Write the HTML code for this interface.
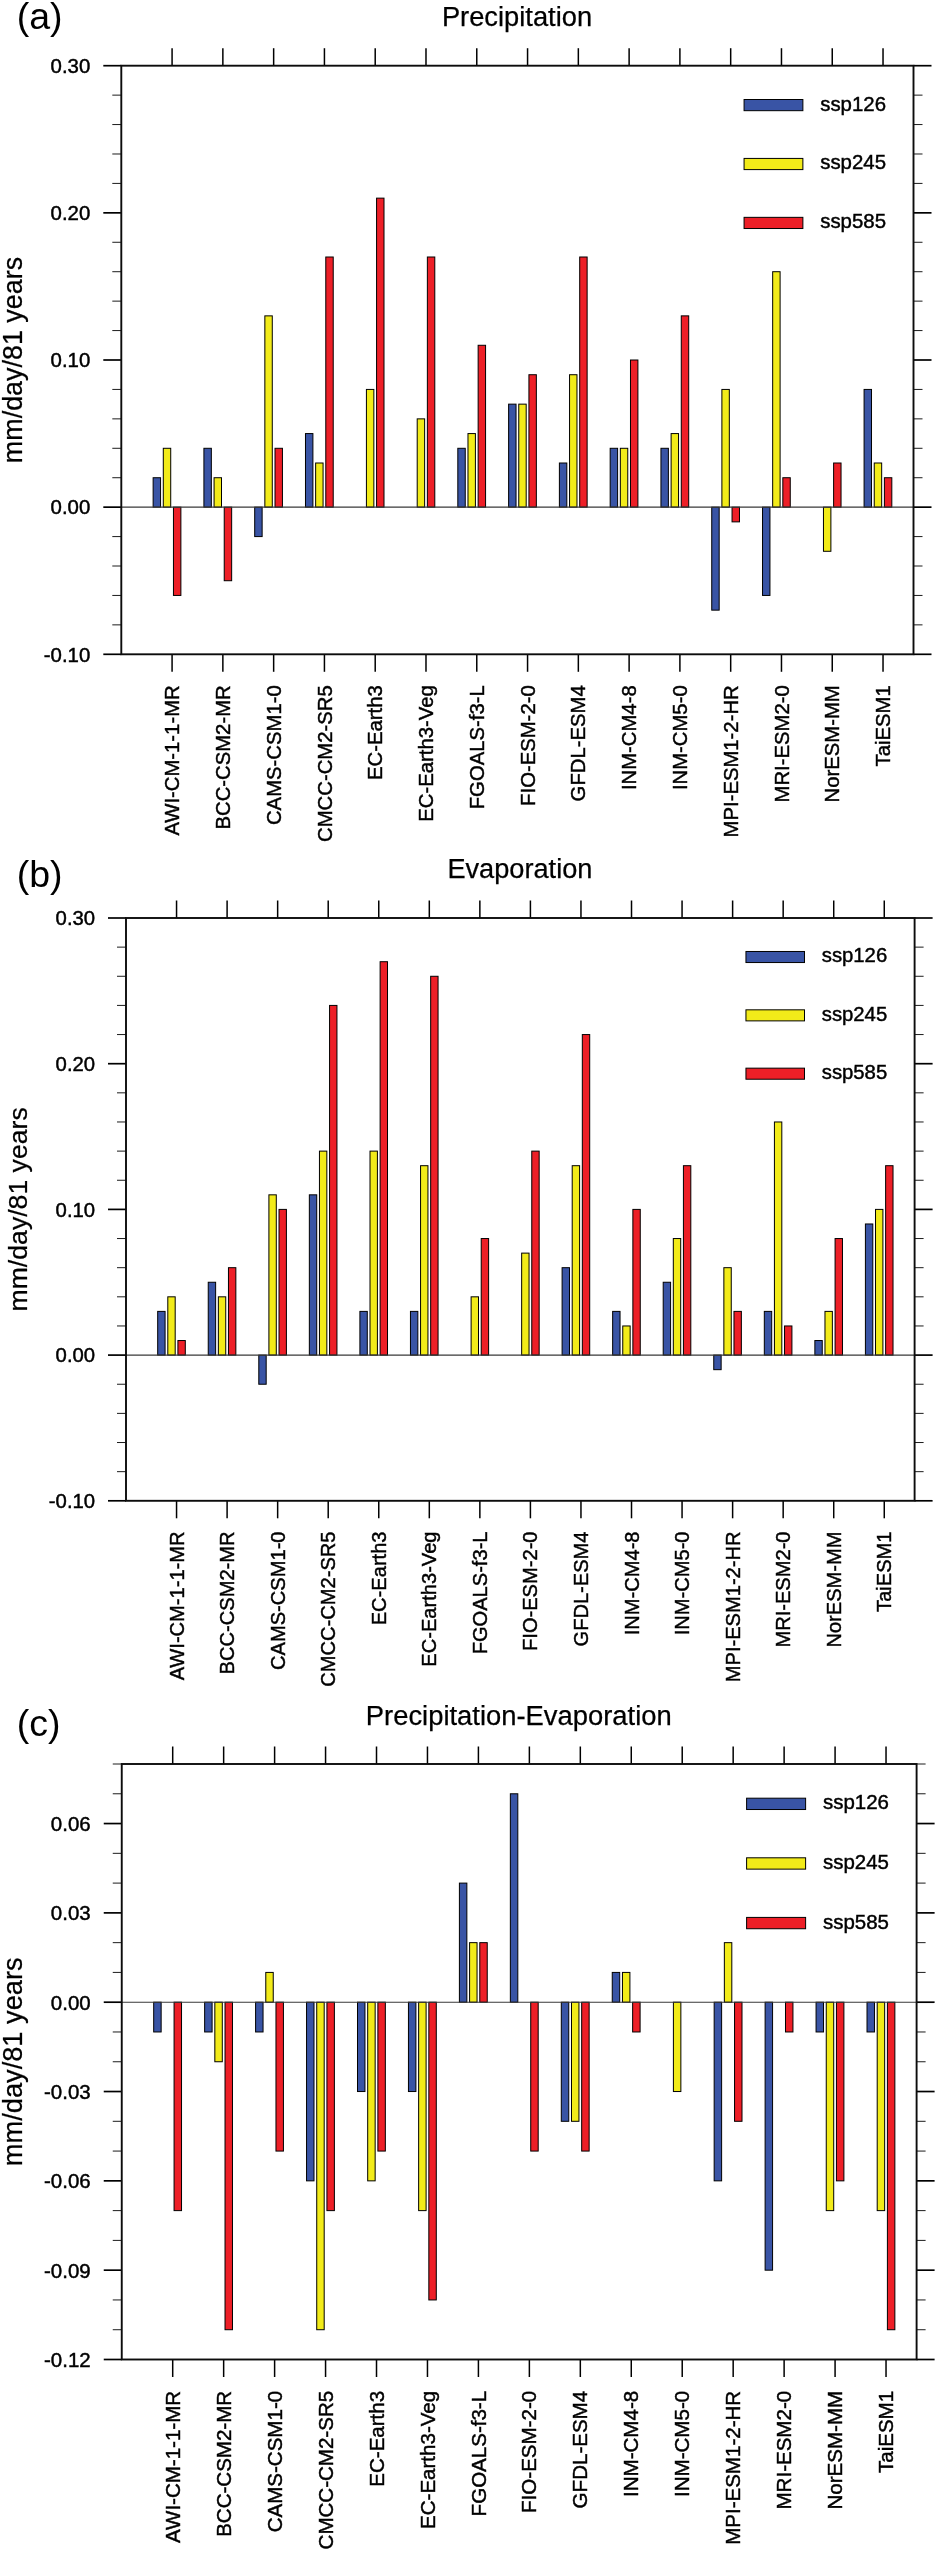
<!DOCTYPE html>
<html><head><meta charset="utf-8"><title>Precipitation / Evaporation trends</title>
<style>
html,body{margin:0;padding:0;background:#fff;}
body{width:937px;height:2550px;overflow:hidden;}
svg{display:block;will-change:transform;}
text{font-family:'Liberation Sans',sans-serif;fill:#000;stroke:#000;stroke-width:0.45px;}
.tg{stroke-width:0;}
.tt{stroke-width:0.25px;}
</style></head><body>
<svg width="937" height="2550" viewBox="0 0 937 2550">
<rect x="0" y="0" width="937" height="2550" fill="#fff"/>
<rect x="153.13" y="477.72" width="7.43" height="29.43" fill="#3954a5" stroke="#000" stroke-width="1"/>
<rect x="203.91" y="448.29" width="7.43" height="58.86" fill="#3954a5" stroke="#000" stroke-width="1"/>
<rect x="254.70" y="507.15" width="7.43" height="29.43" fill="#3954a5" stroke="#000" stroke-width="1"/>
<rect x="305.48" y="433.57" width="7.43" height="73.58" fill="#3954a5" stroke="#000" stroke-width="1"/>
<rect x="457.82" y="448.29" width="7.43" height="58.86" fill="#3954a5" stroke="#000" stroke-width="1"/>
<rect x="508.61" y="404.14" width="7.43" height="103.00" fill="#3954a5" stroke="#000" stroke-width="1"/>
<rect x="559.39" y="463.00" width="7.43" height="44.14" fill="#3954a5" stroke="#000" stroke-width="1"/>
<rect x="610.17" y="448.29" width="7.43" height="58.86" fill="#3954a5" stroke="#000" stroke-width="1"/>
<rect x="660.95" y="448.29" width="7.43" height="58.86" fill="#3954a5" stroke="#000" stroke-width="1"/>
<rect x="711.74" y="507.15" width="7.43" height="103.00" fill="#3954a5" stroke="#000" stroke-width="1"/>
<rect x="762.52" y="507.15" width="7.43" height="88.29" fill="#3954a5" stroke="#000" stroke-width="1"/>
<rect x="864.08" y="389.43" width="7.43" height="117.72" fill="#3954a5" stroke="#000" stroke-width="1"/>
<rect x="163.29" y="448.29" width="7.43" height="58.86" fill="#f2eb19" stroke="#000" stroke-width="1"/>
<rect x="214.07" y="477.72" width="7.43" height="29.43" fill="#f2eb19" stroke="#000" stroke-width="1"/>
<rect x="264.85" y="315.86" width="7.43" height="191.29" fill="#f2eb19" stroke="#000" stroke-width="1"/>
<rect x="315.64" y="463.00" width="7.43" height="44.14" fill="#f2eb19" stroke="#000" stroke-width="1"/>
<rect x="366.42" y="389.43" width="7.43" height="117.72" fill="#f2eb19" stroke="#000" stroke-width="1"/>
<rect x="417.20" y="418.86" width="7.43" height="88.29" fill="#f2eb19" stroke="#000" stroke-width="1"/>
<rect x="467.98" y="433.57" width="7.43" height="73.58" fill="#f2eb19" stroke="#000" stroke-width="1"/>
<rect x="518.76" y="404.14" width="7.43" height="103.00" fill="#f2eb19" stroke="#000" stroke-width="1"/>
<rect x="569.55" y="374.72" width="7.43" height="132.43" fill="#f2eb19" stroke="#000" stroke-width="1"/>
<rect x="620.33" y="448.29" width="7.43" height="58.86" fill="#f2eb19" stroke="#000" stroke-width="1"/>
<rect x="671.11" y="433.57" width="7.43" height="73.58" fill="#f2eb19" stroke="#000" stroke-width="1"/>
<rect x="721.89" y="389.43" width="7.43" height="117.72" fill="#f2eb19" stroke="#000" stroke-width="1"/>
<rect x="772.67" y="271.71" width="7.43" height="235.44" fill="#f2eb19" stroke="#000" stroke-width="1"/>
<rect x="823.46" y="507.15" width="7.43" height="44.14" fill="#f2eb19" stroke="#000" stroke-width="1"/>
<rect x="874.24" y="463.00" width="7.43" height="44.14" fill="#f2eb19" stroke="#000" stroke-width="1"/>
<rect x="173.45" y="507.15" width="7.43" height="88.29" fill="#ed1f27" stroke="#000" stroke-width="1"/>
<rect x="224.23" y="507.15" width="7.43" height="73.57" fill="#ed1f27" stroke="#000" stroke-width="1"/>
<rect x="275.01" y="448.29" width="7.43" height="58.86" fill="#ed1f27" stroke="#000" stroke-width="1"/>
<rect x="325.79" y="257.00" width="7.43" height="250.15" fill="#ed1f27" stroke="#000" stroke-width="1"/>
<rect x="376.57" y="198.14" width="7.43" height="309.01" fill="#ed1f27" stroke="#000" stroke-width="1"/>
<rect x="427.36" y="257.00" width="7.43" height="250.15" fill="#ed1f27" stroke="#000" stroke-width="1"/>
<rect x="478.14" y="345.28" width="7.43" height="161.87" fill="#ed1f27" stroke="#000" stroke-width="1"/>
<rect x="528.92" y="374.72" width="7.43" height="132.43" fill="#ed1f27" stroke="#000" stroke-width="1"/>
<rect x="579.70" y="257.00" width="7.43" height="250.15" fill="#ed1f27" stroke="#000" stroke-width="1"/>
<rect x="630.48" y="360.00" width="7.43" height="147.15" fill="#ed1f27" stroke="#000" stroke-width="1"/>
<rect x="681.27" y="315.86" width="7.43" height="191.29" fill="#ed1f27" stroke="#000" stroke-width="1"/>
<rect x="732.05" y="507.15" width="7.43" height="14.72" fill="#ed1f27" stroke="#000" stroke-width="1"/>
<rect x="782.83" y="477.72" width="7.43" height="29.43" fill="#ed1f27" stroke="#000" stroke-width="1"/>
<rect x="833.61" y="463.00" width="7.43" height="44.14" fill="#ed1f27" stroke="#000" stroke-width="1"/>
<rect x="884.39" y="477.72" width="7.43" height="29.43" fill="#ed1f27" stroke="#000" stroke-width="1"/>
<line x1="121.30" x2="913.50" y1="507.15" y2="507.15" stroke="#383838" stroke-width="1.1"/>
<line x1="112.30" x2="121.30" y1="624.87" y2="624.87" stroke="#1c1c1c" stroke-width="1"/>
<line x1="913.50" x2="922.50" y1="624.87" y2="624.87" stroke="#1c1c1c" stroke-width="1"/>
<line x1="112.30" x2="121.30" y1="595.44" y2="595.44" stroke="#1c1c1c" stroke-width="1"/>
<line x1="913.50" x2="922.50" y1="595.44" y2="595.44" stroke="#1c1c1c" stroke-width="1"/>
<line x1="112.30" x2="121.30" y1="566.01" y2="566.01" stroke="#1c1c1c" stroke-width="1"/>
<line x1="913.50" x2="922.50" y1="566.01" y2="566.01" stroke="#1c1c1c" stroke-width="1"/>
<line x1="112.30" x2="121.30" y1="536.58" y2="536.58" stroke="#1c1c1c" stroke-width="1"/>
<line x1="913.50" x2="922.50" y1="536.58" y2="536.58" stroke="#1c1c1c" stroke-width="1"/>
<line x1="112.30" x2="121.30" y1="477.72" y2="477.72" stroke="#1c1c1c" stroke-width="1"/>
<line x1="913.50" x2="922.50" y1="477.72" y2="477.72" stroke="#1c1c1c" stroke-width="1"/>
<line x1="112.30" x2="121.30" y1="448.29" y2="448.29" stroke="#1c1c1c" stroke-width="1"/>
<line x1="913.50" x2="922.50" y1="448.29" y2="448.29" stroke="#1c1c1c" stroke-width="1"/>
<line x1="112.30" x2="121.30" y1="418.86" y2="418.86" stroke="#1c1c1c" stroke-width="1"/>
<line x1="913.50" x2="922.50" y1="418.86" y2="418.86" stroke="#1c1c1c" stroke-width="1"/>
<line x1="112.30" x2="121.30" y1="389.43" y2="389.43" stroke="#1c1c1c" stroke-width="1"/>
<line x1="913.50" x2="922.50" y1="389.43" y2="389.43" stroke="#1c1c1c" stroke-width="1"/>
<line x1="112.30" x2="121.30" y1="330.57" y2="330.57" stroke="#1c1c1c" stroke-width="1"/>
<line x1="913.50" x2="922.50" y1="330.57" y2="330.57" stroke="#1c1c1c" stroke-width="1"/>
<line x1="112.30" x2="121.30" y1="301.14" y2="301.14" stroke="#1c1c1c" stroke-width="1"/>
<line x1="913.50" x2="922.50" y1="301.14" y2="301.14" stroke="#1c1c1c" stroke-width="1"/>
<line x1="112.30" x2="121.30" y1="271.71" y2="271.71" stroke="#1c1c1c" stroke-width="1"/>
<line x1="913.50" x2="922.50" y1="271.71" y2="271.71" stroke="#1c1c1c" stroke-width="1"/>
<line x1="112.30" x2="121.30" y1="242.28" y2="242.28" stroke="#1c1c1c" stroke-width="1"/>
<line x1="913.50" x2="922.50" y1="242.28" y2="242.28" stroke="#1c1c1c" stroke-width="1"/>
<line x1="112.30" x2="121.30" y1="183.42" y2="183.42" stroke="#1c1c1c" stroke-width="1"/>
<line x1="913.50" x2="922.50" y1="183.42" y2="183.42" stroke="#1c1c1c" stroke-width="1"/>
<line x1="112.30" x2="121.30" y1="153.99" y2="153.99" stroke="#1c1c1c" stroke-width="1"/>
<line x1="913.50" x2="922.50" y1="153.99" y2="153.99" stroke="#1c1c1c" stroke-width="1"/>
<line x1="112.30" x2="121.30" y1="124.56" y2="124.56" stroke="#1c1c1c" stroke-width="1"/>
<line x1="913.50" x2="922.50" y1="124.56" y2="124.56" stroke="#1c1c1c" stroke-width="1"/>
<line x1="112.30" x2="121.30" y1="95.13" y2="95.13" stroke="#1c1c1c" stroke-width="1"/>
<line x1="913.50" x2="922.50" y1="95.13" y2="95.13" stroke="#1c1c1c" stroke-width="1"/>
<line x1="103.30" x2="121.30" y1="65.70" y2="65.70" stroke="#000" stroke-width="1.7"/>
<line x1="913.50" x2="931.50" y1="65.70" y2="65.70" stroke="#000" stroke-width="1.7"/>
<line x1="103.30" x2="121.30" y1="212.85" y2="212.85" stroke="#000" stroke-width="1.7"/>
<line x1="913.50" x2="931.50" y1="212.85" y2="212.85" stroke="#000" stroke-width="1.7"/>
<line x1="103.30" x2="121.30" y1="360.00" y2="360.00" stroke="#000" stroke-width="1.7"/>
<line x1="913.50" x2="931.50" y1="360.00" y2="360.00" stroke="#000" stroke-width="1.7"/>
<line x1="103.30" x2="121.30" y1="507.15" y2="507.15" stroke="#000" stroke-width="1.7"/>
<line x1="913.50" x2="931.50" y1="507.15" y2="507.15" stroke="#000" stroke-width="1.7"/>
<line x1="103.30" x2="121.30" y1="654.30" y2="654.30" stroke="#000" stroke-width="1.7"/>
<line x1="913.50" x2="931.50" y1="654.30" y2="654.30" stroke="#000" stroke-width="1.7"/>
<line x1="172.08" x2="172.08" y1="48.20" y2="65.70" stroke="#000" stroke-width="1.5"/>
<line x1="172.08" x2="172.08" y1="654.30" y2="671.80" stroke="#000" stroke-width="1.5"/>
<line x1="222.86" x2="222.86" y1="48.20" y2="65.70" stroke="#000" stroke-width="1.5"/>
<line x1="222.86" x2="222.86" y1="654.30" y2="671.80" stroke="#000" stroke-width="1.5"/>
<line x1="273.65" x2="273.65" y1="48.20" y2="65.70" stroke="#000" stroke-width="1.5"/>
<line x1="273.65" x2="273.65" y1="654.30" y2="671.80" stroke="#000" stroke-width="1.5"/>
<line x1="324.43" x2="324.43" y1="48.20" y2="65.70" stroke="#000" stroke-width="1.5"/>
<line x1="324.43" x2="324.43" y1="654.30" y2="671.80" stroke="#000" stroke-width="1.5"/>
<line x1="375.21" x2="375.21" y1="48.20" y2="65.70" stroke="#000" stroke-width="1.5"/>
<line x1="375.21" x2="375.21" y1="654.30" y2="671.80" stroke="#000" stroke-width="1.5"/>
<line x1="425.99" x2="425.99" y1="48.20" y2="65.70" stroke="#000" stroke-width="1.5"/>
<line x1="425.99" x2="425.99" y1="654.30" y2="671.80" stroke="#000" stroke-width="1.5"/>
<line x1="476.77" x2="476.77" y1="48.20" y2="65.70" stroke="#000" stroke-width="1.5"/>
<line x1="476.77" x2="476.77" y1="654.30" y2="671.80" stroke="#000" stroke-width="1.5"/>
<line x1="527.56" x2="527.56" y1="48.20" y2="65.70" stroke="#000" stroke-width="1.5"/>
<line x1="527.56" x2="527.56" y1="654.30" y2="671.80" stroke="#000" stroke-width="1.5"/>
<line x1="578.34" x2="578.34" y1="48.20" y2="65.70" stroke="#000" stroke-width="1.5"/>
<line x1="578.34" x2="578.34" y1="654.30" y2="671.80" stroke="#000" stroke-width="1.5"/>
<line x1="629.12" x2="629.12" y1="48.20" y2="65.70" stroke="#000" stroke-width="1.5"/>
<line x1="629.12" x2="629.12" y1="654.30" y2="671.80" stroke="#000" stroke-width="1.5"/>
<line x1="679.90" x2="679.90" y1="48.20" y2="65.70" stroke="#000" stroke-width="1.5"/>
<line x1="679.90" x2="679.90" y1="654.30" y2="671.80" stroke="#000" stroke-width="1.5"/>
<line x1="730.68" x2="730.68" y1="48.20" y2="65.70" stroke="#000" stroke-width="1.5"/>
<line x1="730.68" x2="730.68" y1="654.30" y2="671.80" stroke="#000" stroke-width="1.5"/>
<line x1="781.47" x2="781.47" y1="48.20" y2="65.70" stroke="#000" stroke-width="1.5"/>
<line x1="781.47" x2="781.47" y1="654.30" y2="671.80" stroke="#000" stroke-width="1.5"/>
<line x1="832.25" x2="832.25" y1="48.20" y2="65.70" stroke="#000" stroke-width="1.5"/>
<line x1="832.25" x2="832.25" y1="654.30" y2="671.80" stroke="#000" stroke-width="1.5"/>
<line x1="883.03" x2="883.03" y1="48.20" y2="65.70" stroke="#000" stroke-width="1.5"/>
<line x1="883.03" x2="883.03" y1="654.30" y2="671.80" stroke="#000" stroke-width="1.5"/>
<rect x="121.30" y="65.70" width="792.20" height="588.60" fill="none" stroke="#0c0c0c" stroke-width="1.9"/>
<text x="90.30" y="73.00" text-anchor="end" font-size="20.40">0.30</text>
<text x="90.30" y="220.15" text-anchor="end" font-size="20.40">0.20</text>
<text x="90.30" y="367.30" text-anchor="end" font-size="20.40">0.10</text>
<text x="90.30" y="514.45" text-anchor="end" font-size="20.40">0.00</text>
<text x="90.30" y="661.60" text-anchor="end" font-size="20.40">-0.10</text>
<text transform="translate(179.18,685.30) rotate(-90)" text-anchor="end" font-size="20.30">AWI-CM-1-1-MR</text>
<text transform="translate(229.96,685.30) rotate(-90)" text-anchor="end" font-size="20.30">BCC-CSM2-MR</text>
<text transform="translate(280.75,685.30) rotate(-90)" text-anchor="end" font-size="20.30">CAMS-CSM1-0</text>
<text transform="translate(331.53,685.30) rotate(-90)" text-anchor="end" font-size="20.30">CMCC-CM2-SR5</text>
<text transform="translate(382.31,685.30) rotate(-90)" text-anchor="end" font-size="20.30">EC-Earth3</text>
<text transform="translate(433.09,685.30) rotate(-90)" text-anchor="end" font-size="20.30">EC-Earth3-Veg</text>
<text transform="translate(483.87,685.30) rotate(-90)" text-anchor="end" font-size="20.30">FGOALS-f3-L</text>
<text transform="translate(534.66,685.30) rotate(-90)" text-anchor="end" font-size="20.30">FIO-ESM-2-0</text>
<text transform="translate(585.44,685.30) rotate(-90)" text-anchor="end" font-size="20.30">GFDL-ESM4</text>
<text transform="translate(636.22,685.30) rotate(-90)" text-anchor="end" font-size="20.30">INM-CM4-8</text>
<text transform="translate(687.00,685.30) rotate(-90)" text-anchor="end" font-size="20.30">INM-CM5-0</text>
<text transform="translate(737.78,685.30) rotate(-90)" text-anchor="end" font-size="20.30">MPI-ESM1-2-HR</text>
<text transform="translate(788.57,685.30) rotate(-90)" text-anchor="end" font-size="20.30">MRI-ESM2-0</text>
<text transform="translate(839.35,685.30) rotate(-90)" text-anchor="end" font-size="20.30">NorESM-MM</text>
<text transform="translate(890.13,685.30) rotate(-90)" text-anchor="end" font-size="20.30">TaiESM1</text>
<rect x="744.07" y="99.50" width="58.81" height="11.18" fill="#3954a5" stroke="#000" stroke-width="1"/>
<text x="820.22" y="110.50" font-size="20.40">ssp126</text>
<rect x="744.07" y="158.42" width="58.81" height="11.18" fill="#f2eb19" stroke="#000" stroke-width="1"/>
<text x="820.22" y="169.42" font-size="20.40">ssp245</text>
<rect x="744.07" y="217.34" width="58.81" height="11.18" fill="#ed1f27" stroke="#000" stroke-width="1"/>
<text x="820.22" y="228.34" font-size="20.40">ssp585</text>
<text x="517.00" y="25.80" text-anchor="middle" font-size="27.30" class="tt">Precipitation</text>
<text x="16.70" y="28.80" font-size="37.5" class="tg">(a)</text>
<text transform="translate(22.20,360.00) rotate(-90)" text-anchor="middle" font-size="26.90" class="tt">mm/day/81 years</text>
<rect x="157.69" y="1311.39" width="7.39" height="43.71" fill="#3954a5" stroke="#000" stroke-width="1"/>
<rect x="208.24" y="1282.25" width="7.39" height="72.85" fill="#3954a5" stroke="#000" stroke-width="1"/>
<rect x="258.79" y="1355.10" width="7.39" height="29.14" fill="#3954a5" stroke="#000" stroke-width="1"/>
<rect x="309.34" y="1194.83" width="7.39" height="160.27" fill="#3954a5" stroke="#000" stroke-width="1"/>
<rect x="359.90" y="1311.39" width="7.39" height="43.71" fill="#3954a5" stroke="#000" stroke-width="1"/>
<rect x="410.45" y="1311.39" width="7.39" height="43.71" fill="#3954a5" stroke="#000" stroke-width="1"/>
<rect x="562.10" y="1267.68" width="7.39" height="87.42" fill="#3954a5" stroke="#000" stroke-width="1"/>
<rect x="612.65" y="1311.39" width="7.39" height="43.71" fill="#3954a5" stroke="#000" stroke-width="1"/>
<rect x="663.20" y="1282.25" width="7.39" height="72.85" fill="#3954a5" stroke="#000" stroke-width="1"/>
<rect x="713.75" y="1355.10" width="7.39" height="14.57" fill="#3954a5" stroke="#000" stroke-width="1"/>
<rect x="764.31" y="1311.39" width="7.39" height="43.71" fill="#3954a5" stroke="#000" stroke-width="1"/>
<rect x="814.86" y="1340.53" width="7.39" height="14.57" fill="#3954a5" stroke="#000" stroke-width="1"/>
<rect x="865.41" y="1223.97" width="7.39" height="131.13" fill="#3954a5" stroke="#000" stroke-width="1"/>
<rect x="167.80" y="1296.82" width="7.39" height="58.28" fill="#f2eb19" stroke="#000" stroke-width="1"/>
<rect x="218.35" y="1296.82" width="7.39" height="58.28" fill="#f2eb19" stroke="#000" stroke-width="1"/>
<rect x="268.90" y="1194.83" width="7.39" height="160.27" fill="#f2eb19" stroke="#000" stroke-width="1"/>
<rect x="319.45" y="1151.12" width="7.39" height="203.98" fill="#f2eb19" stroke="#000" stroke-width="1"/>
<rect x="370.01" y="1151.12" width="7.39" height="203.98" fill="#f2eb19" stroke="#000" stroke-width="1"/>
<rect x="420.56" y="1165.69" width="7.39" height="189.41" fill="#f2eb19" stroke="#000" stroke-width="1"/>
<rect x="471.11" y="1296.82" width="7.39" height="58.28" fill="#f2eb19" stroke="#000" stroke-width="1"/>
<rect x="521.66" y="1253.11" width="7.39" height="101.99" fill="#f2eb19" stroke="#000" stroke-width="1"/>
<rect x="572.21" y="1165.69" width="7.39" height="189.41" fill="#f2eb19" stroke="#000" stroke-width="1"/>
<rect x="622.76" y="1325.96" width="7.39" height="29.14" fill="#f2eb19" stroke="#000" stroke-width="1"/>
<rect x="673.31" y="1238.54" width="7.39" height="116.56" fill="#f2eb19" stroke="#000" stroke-width="1"/>
<rect x="723.86" y="1267.68" width="7.39" height="87.42" fill="#f2eb19" stroke="#000" stroke-width="1"/>
<rect x="774.42" y="1121.98" width="7.39" height="233.12" fill="#f2eb19" stroke="#000" stroke-width="1"/>
<rect x="824.97" y="1311.39" width="7.39" height="43.71" fill="#f2eb19" stroke="#000" stroke-width="1"/>
<rect x="875.52" y="1209.40" width="7.39" height="145.70" fill="#f2eb19" stroke="#000" stroke-width="1"/>
<rect x="177.91" y="1340.53" width="7.39" height="14.57" fill="#ed1f27" stroke="#000" stroke-width="1"/>
<rect x="228.46" y="1267.68" width="7.39" height="87.42" fill="#ed1f27" stroke="#000" stroke-width="1"/>
<rect x="279.01" y="1209.40" width="7.39" height="145.70" fill="#ed1f27" stroke="#000" stroke-width="1"/>
<rect x="329.56" y="1005.42" width="7.39" height="349.68" fill="#ed1f27" stroke="#000" stroke-width="1"/>
<rect x="380.12" y="961.71" width="7.39" height="393.39" fill="#ed1f27" stroke="#000" stroke-width="1"/>
<rect x="430.67" y="976.28" width="7.39" height="378.82" fill="#ed1f27" stroke="#000" stroke-width="1"/>
<rect x="481.22" y="1238.54" width="7.39" height="116.56" fill="#ed1f27" stroke="#000" stroke-width="1"/>
<rect x="531.77" y="1151.12" width="7.39" height="203.98" fill="#ed1f27" stroke="#000" stroke-width="1"/>
<rect x="582.32" y="1034.56" width="7.39" height="320.54" fill="#ed1f27" stroke="#000" stroke-width="1"/>
<rect x="632.87" y="1209.40" width="7.39" height="145.70" fill="#ed1f27" stroke="#000" stroke-width="1"/>
<rect x="683.42" y="1165.69" width="7.39" height="189.41" fill="#ed1f27" stroke="#000" stroke-width="1"/>
<rect x="733.97" y="1311.39" width="7.39" height="43.71" fill="#ed1f27" stroke="#000" stroke-width="1"/>
<rect x="784.53" y="1325.96" width="7.39" height="29.14" fill="#ed1f27" stroke="#000" stroke-width="1"/>
<rect x="835.08" y="1238.54" width="7.39" height="116.56" fill="#ed1f27" stroke="#000" stroke-width="1"/>
<rect x="885.63" y="1165.69" width="7.39" height="189.41" fill="#ed1f27" stroke="#000" stroke-width="1"/>
<line x1="126.00" x2="914.60" y1="1355.10" y2="1355.10" stroke="#383838" stroke-width="1.1"/>
<line x1="117.00" x2="126.00" y1="1471.66" y2="1471.66" stroke="#1c1c1c" stroke-width="1"/>
<line x1="914.60" x2="923.60" y1="1471.66" y2="1471.66" stroke="#1c1c1c" stroke-width="1"/>
<line x1="117.00" x2="126.00" y1="1442.52" y2="1442.52" stroke="#1c1c1c" stroke-width="1"/>
<line x1="914.60" x2="923.60" y1="1442.52" y2="1442.52" stroke="#1c1c1c" stroke-width="1"/>
<line x1="117.00" x2="126.00" y1="1413.38" y2="1413.38" stroke="#1c1c1c" stroke-width="1"/>
<line x1="914.60" x2="923.60" y1="1413.38" y2="1413.38" stroke="#1c1c1c" stroke-width="1"/>
<line x1="117.00" x2="126.00" y1="1384.24" y2="1384.24" stroke="#1c1c1c" stroke-width="1"/>
<line x1="914.60" x2="923.60" y1="1384.24" y2="1384.24" stroke="#1c1c1c" stroke-width="1"/>
<line x1="117.00" x2="126.00" y1="1325.96" y2="1325.96" stroke="#1c1c1c" stroke-width="1"/>
<line x1="914.60" x2="923.60" y1="1325.96" y2="1325.96" stroke="#1c1c1c" stroke-width="1"/>
<line x1="117.00" x2="126.00" y1="1296.82" y2="1296.82" stroke="#1c1c1c" stroke-width="1"/>
<line x1="914.60" x2="923.60" y1="1296.82" y2="1296.82" stroke="#1c1c1c" stroke-width="1"/>
<line x1="117.00" x2="126.00" y1="1267.68" y2="1267.68" stroke="#1c1c1c" stroke-width="1"/>
<line x1="914.60" x2="923.60" y1="1267.68" y2="1267.68" stroke="#1c1c1c" stroke-width="1"/>
<line x1="117.00" x2="126.00" y1="1238.54" y2="1238.54" stroke="#1c1c1c" stroke-width="1"/>
<line x1="914.60" x2="923.60" y1="1238.54" y2="1238.54" stroke="#1c1c1c" stroke-width="1"/>
<line x1="117.00" x2="126.00" y1="1180.26" y2="1180.26" stroke="#1c1c1c" stroke-width="1"/>
<line x1="914.60" x2="923.60" y1="1180.26" y2="1180.26" stroke="#1c1c1c" stroke-width="1"/>
<line x1="117.00" x2="126.00" y1="1151.12" y2="1151.12" stroke="#1c1c1c" stroke-width="1"/>
<line x1="914.60" x2="923.60" y1="1151.12" y2="1151.12" stroke="#1c1c1c" stroke-width="1"/>
<line x1="117.00" x2="126.00" y1="1121.98" y2="1121.98" stroke="#1c1c1c" stroke-width="1"/>
<line x1="914.60" x2="923.60" y1="1121.98" y2="1121.98" stroke="#1c1c1c" stroke-width="1"/>
<line x1="117.00" x2="126.00" y1="1092.84" y2="1092.84" stroke="#1c1c1c" stroke-width="1"/>
<line x1="914.60" x2="923.60" y1="1092.84" y2="1092.84" stroke="#1c1c1c" stroke-width="1"/>
<line x1="117.00" x2="126.00" y1="1034.56" y2="1034.56" stroke="#1c1c1c" stroke-width="1"/>
<line x1="914.60" x2="923.60" y1="1034.56" y2="1034.56" stroke="#1c1c1c" stroke-width="1"/>
<line x1="117.00" x2="126.00" y1="1005.42" y2="1005.42" stroke="#1c1c1c" stroke-width="1"/>
<line x1="914.60" x2="923.60" y1="1005.42" y2="1005.42" stroke="#1c1c1c" stroke-width="1"/>
<line x1="117.00" x2="126.00" y1="976.28" y2="976.28" stroke="#1c1c1c" stroke-width="1"/>
<line x1="914.60" x2="923.60" y1="976.28" y2="976.28" stroke="#1c1c1c" stroke-width="1"/>
<line x1="117.00" x2="126.00" y1="947.14" y2="947.14" stroke="#1c1c1c" stroke-width="1"/>
<line x1="914.60" x2="923.60" y1="947.14" y2="947.14" stroke="#1c1c1c" stroke-width="1"/>
<line x1="108.00" x2="126.00" y1="918.00" y2="918.00" stroke="#000" stroke-width="1.7"/>
<line x1="914.60" x2="932.60" y1="918.00" y2="918.00" stroke="#000" stroke-width="1.7"/>
<line x1="108.00" x2="126.00" y1="1063.70" y2="1063.70" stroke="#000" stroke-width="1.7"/>
<line x1="914.60" x2="932.60" y1="1063.70" y2="1063.70" stroke="#000" stroke-width="1.7"/>
<line x1="108.00" x2="126.00" y1="1209.40" y2="1209.40" stroke="#000" stroke-width="1.7"/>
<line x1="914.60" x2="932.60" y1="1209.40" y2="1209.40" stroke="#000" stroke-width="1.7"/>
<line x1="108.00" x2="126.00" y1="1355.10" y2="1355.10" stroke="#000" stroke-width="1.7"/>
<line x1="914.60" x2="932.60" y1="1355.10" y2="1355.10" stroke="#000" stroke-width="1.7"/>
<line x1="108.00" x2="126.00" y1="1500.80" y2="1500.80" stroke="#000" stroke-width="1.7"/>
<line x1="914.60" x2="932.60" y1="1500.80" y2="1500.80" stroke="#000" stroke-width="1.7"/>
<line x1="176.55" x2="176.55" y1="900.50" y2="918.00" stroke="#000" stroke-width="1.5"/>
<line x1="176.55" x2="176.55" y1="1500.80" y2="1518.30" stroke="#000" stroke-width="1.5"/>
<line x1="227.10" x2="227.10" y1="900.50" y2="918.00" stroke="#000" stroke-width="1.5"/>
<line x1="227.10" x2="227.10" y1="1500.80" y2="1518.30" stroke="#000" stroke-width="1.5"/>
<line x1="277.65" x2="277.65" y1="900.50" y2="918.00" stroke="#000" stroke-width="1.5"/>
<line x1="277.65" x2="277.65" y1="1500.80" y2="1518.30" stroke="#000" stroke-width="1.5"/>
<line x1="328.21" x2="328.21" y1="900.50" y2="918.00" stroke="#000" stroke-width="1.5"/>
<line x1="328.21" x2="328.21" y1="1500.80" y2="1518.30" stroke="#000" stroke-width="1.5"/>
<line x1="378.76" x2="378.76" y1="900.50" y2="918.00" stroke="#000" stroke-width="1.5"/>
<line x1="378.76" x2="378.76" y1="1500.80" y2="1518.30" stroke="#000" stroke-width="1.5"/>
<line x1="429.31" x2="429.31" y1="900.50" y2="918.00" stroke="#000" stroke-width="1.5"/>
<line x1="429.31" x2="429.31" y1="1500.80" y2="1518.30" stroke="#000" stroke-width="1.5"/>
<line x1="479.86" x2="479.86" y1="900.50" y2="918.00" stroke="#000" stroke-width="1.5"/>
<line x1="479.86" x2="479.86" y1="1500.80" y2="1518.30" stroke="#000" stroke-width="1.5"/>
<line x1="530.41" x2="530.41" y1="900.50" y2="918.00" stroke="#000" stroke-width="1.5"/>
<line x1="530.41" x2="530.41" y1="1500.80" y2="1518.30" stroke="#000" stroke-width="1.5"/>
<line x1="580.96" x2="580.96" y1="900.50" y2="918.00" stroke="#000" stroke-width="1.5"/>
<line x1="580.96" x2="580.96" y1="1500.80" y2="1518.30" stroke="#000" stroke-width="1.5"/>
<line x1="631.51" x2="631.51" y1="900.50" y2="918.00" stroke="#000" stroke-width="1.5"/>
<line x1="631.51" x2="631.51" y1="1500.80" y2="1518.30" stroke="#000" stroke-width="1.5"/>
<line x1="682.06" x2="682.06" y1="900.50" y2="918.00" stroke="#000" stroke-width="1.5"/>
<line x1="682.06" x2="682.06" y1="1500.80" y2="1518.30" stroke="#000" stroke-width="1.5"/>
<line x1="732.62" x2="732.62" y1="900.50" y2="918.00" stroke="#000" stroke-width="1.5"/>
<line x1="732.62" x2="732.62" y1="1500.80" y2="1518.30" stroke="#000" stroke-width="1.5"/>
<line x1="783.17" x2="783.17" y1="900.50" y2="918.00" stroke="#000" stroke-width="1.5"/>
<line x1="783.17" x2="783.17" y1="1500.80" y2="1518.30" stroke="#000" stroke-width="1.5"/>
<line x1="833.72" x2="833.72" y1="900.50" y2="918.00" stroke="#000" stroke-width="1.5"/>
<line x1="833.72" x2="833.72" y1="1500.80" y2="1518.30" stroke="#000" stroke-width="1.5"/>
<line x1="884.27" x2="884.27" y1="900.50" y2="918.00" stroke="#000" stroke-width="1.5"/>
<line x1="884.27" x2="884.27" y1="1500.80" y2="1518.30" stroke="#000" stroke-width="1.5"/>
<rect x="126.00" y="918.00" width="788.60" height="582.80" fill="none" stroke="#0c0c0c" stroke-width="1.9"/>
<text x="95.14" y="925.23" text-anchor="end" font-size="20.31">0.30</text>
<text x="95.14" y="1070.93" text-anchor="end" font-size="20.31">0.20</text>
<text x="95.14" y="1216.63" text-anchor="end" font-size="20.31">0.10</text>
<text x="95.14" y="1362.33" text-anchor="end" font-size="20.31">0.00</text>
<text x="95.14" y="1508.03" text-anchor="end" font-size="20.31">-0.10</text>
<text transform="translate(183.62,1531.49) rotate(-90)" text-anchor="end" font-size="20.10">AWI-CM-1-1-MR</text>
<text transform="translate(234.17,1531.49) rotate(-90)" text-anchor="end" font-size="20.10">BCC-CSM2-MR</text>
<text transform="translate(284.72,1531.49) rotate(-90)" text-anchor="end" font-size="20.10">CAMS-CSM1-0</text>
<text transform="translate(335.27,1531.49) rotate(-90)" text-anchor="end" font-size="20.10">CMCC-CM2-SR5</text>
<text transform="translate(385.82,1531.49) rotate(-90)" text-anchor="end" font-size="20.10">EC-Earth3</text>
<text transform="translate(436.38,1531.49) rotate(-90)" text-anchor="end" font-size="20.10">EC-Earth3-Veg</text>
<text transform="translate(486.93,1531.49) rotate(-90)" text-anchor="end" font-size="20.10">FGOALS-f3-L</text>
<text transform="translate(537.48,1531.49) rotate(-90)" text-anchor="end" font-size="20.10">FIO-ESM-2-0</text>
<text transform="translate(588.03,1531.49) rotate(-90)" text-anchor="end" font-size="20.10">GFDL-ESM4</text>
<text transform="translate(638.58,1531.49) rotate(-90)" text-anchor="end" font-size="20.10">INM-CM4-8</text>
<text transform="translate(689.13,1531.49) rotate(-90)" text-anchor="end" font-size="20.10">INM-CM5-0</text>
<text transform="translate(739.68,1531.49) rotate(-90)" text-anchor="end" font-size="20.10">MPI-ESM1-2-HR</text>
<text transform="translate(790.23,1531.49) rotate(-90)" text-anchor="end" font-size="20.10">MRI-ESM2-0</text>
<text transform="translate(840.79,1531.49) rotate(-90)" text-anchor="end" font-size="20.10">NorESM-MM</text>
<text transform="translate(891.34,1531.49) rotate(-90)" text-anchor="end" font-size="20.10">TaiESM1</text>
<rect x="745.95" y="951.48" width="58.54" height="11.06" fill="#3954a5" stroke="#000" stroke-width="1"/>
<text x="821.75" y="962.36" font-size="20.31">ssp126</text>
<rect x="745.95" y="1009.82" width="58.54" height="11.06" fill="#f2eb19" stroke="#000" stroke-width="1"/>
<text x="821.75" y="1020.70" font-size="20.31">ssp245</text>
<rect x="745.95" y="1068.16" width="58.54" height="11.06" fill="#ed1f27" stroke="#000" stroke-width="1"/>
<text x="821.75" y="1079.04" font-size="20.31">ssp585</text>
<text x="519.90" y="878.20" text-anchor="middle" font-size="27.18" class="tt">Evaporation</text>
<text x="16.70" y="886.50" font-size="37.5" class="tg">(b)</text>
<text transform="translate(27.40,1209.40) rotate(-90)" text-anchor="middle" font-size="26.63" class="tt">mm/day/81 years</text>
<rect x="153.69" y="2002.20" width="7.46" height="29.77" fill="#3954a5" stroke="#000" stroke-width="1"/>
<rect x="204.64" y="2002.20" width="7.46" height="29.77" fill="#3954a5" stroke="#000" stroke-width="1"/>
<rect x="255.59" y="2002.20" width="7.46" height="29.77" fill="#3954a5" stroke="#000" stroke-width="1"/>
<rect x="306.54" y="2002.20" width="7.46" height="178.65" fill="#3954a5" stroke="#000" stroke-width="1"/>
<rect x="357.50" y="2002.20" width="7.46" height="89.33" fill="#3954a5" stroke="#000" stroke-width="1"/>
<rect x="408.45" y="2002.20" width="7.46" height="89.33" fill="#3954a5" stroke="#000" stroke-width="1"/>
<rect x="459.40" y="1883.10" width="7.46" height="119.10" fill="#3954a5" stroke="#000" stroke-width="1"/>
<rect x="510.35" y="1793.78" width="7.46" height="208.42" fill="#3954a5" stroke="#000" stroke-width="1"/>
<rect x="561.30" y="2002.20" width="7.46" height="119.10" fill="#3954a5" stroke="#000" stroke-width="1"/>
<rect x="612.25" y="1972.42" width="7.46" height="29.78" fill="#3954a5" stroke="#000" stroke-width="1"/>
<rect x="714.16" y="2002.20" width="7.46" height="178.65" fill="#3954a5" stroke="#000" stroke-width="1"/>
<rect x="765.11" y="2002.20" width="7.46" height="267.98" fill="#3954a5" stroke="#000" stroke-width="1"/>
<rect x="816.06" y="2002.20" width="7.46" height="29.77" fill="#3954a5" stroke="#000" stroke-width="1"/>
<rect x="867.01" y="2002.20" width="7.46" height="29.77" fill="#3954a5" stroke="#000" stroke-width="1"/>
<rect x="214.83" y="2002.20" width="7.46" height="59.55" fill="#f2eb19" stroke="#000" stroke-width="1"/>
<rect x="265.78" y="1972.42" width="7.46" height="29.78" fill="#f2eb19" stroke="#000" stroke-width="1"/>
<rect x="316.73" y="2002.20" width="7.46" height="327.52" fill="#f2eb19" stroke="#000" stroke-width="1"/>
<rect x="367.69" y="2002.20" width="7.46" height="178.65" fill="#f2eb19" stroke="#000" stroke-width="1"/>
<rect x="418.64" y="2002.20" width="7.46" height="208.42" fill="#f2eb19" stroke="#000" stroke-width="1"/>
<rect x="469.59" y="1942.65" width="7.46" height="59.55" fill="#f2eb19" stroke="#000" stroke-width="1"/>
<rect x="571.49" y="2002.20" width="7.46" height="119.10" fill="#f2eb19" stroke="#000" stroke-width="1"/>
<rect x="622.45" y="1972.42" width="7.46" height="29.78" fill="#f2eb19" stroke="#000" stroke-width="1"/>
<rect x="673.40" y="2002.20" width="7.46" height="89.33" fill="#f2eb19" stroke="#000" stroke-width="1"/>
<rect x="724.35" y="1942.65" width="7.46" height="59.55" fill="#f2eb19" stroke="#000" stroke-width="1"/>
<rect x="826.25" y="2002.20" width="7.46" height="208.42" fill="#f2eb19" stroke="#000" stroke-width="1"/>
<rect x="877.20" y="2002.20" width="7.46" height="208.42" fill="#f2eb19" stroke="#000" stroke-width="1"/>
<rect x="174.07" y="2002.20" width="7.46" height="208.42" fill="#ed1f27" stroke="#000" stroke-width="1"/>
<rect x="225.02" y="2002.20" width="7.46" height="327.52" fill="#ed1f27" stroke="#000" stroke-width="1"/>
<rect x="275.97" y="2002.20" width="7.46" height="148.87" fill="#ed1f27" stroke="#000" stroke-width="1"/>
<rect x="326.92" y="2002.20" width="7.46" height="208.42" fill="#ed1f27" stroke="#000" stroke-width="1"/>
<rect x="377.88" y="2002.20" width="7.46" height="148.87" fill="#ed1f27" stroke="#000" stroke-width="1"/>
<rect x="428.83" y="2002.20" width="7.46" height="297.75" fill="#ed1f27" stroke="#000" stroke-width="1"/>
<rect x="479.78" y="1942.65" width="7.46" height="59.55" fill="#ed1f27" stroke="#000" stroke-width="1"/>
<rect x="530.73" y="2002.20" width="7.46" height="148.87" fill="#ed1f27" stroke="#000" stroke-width="1"/>
<rect x="581.68" y="2002.20" width="7.46" height="148.87" fill="#ed1f27" stroke="#000" stroke-width="1"/>
<rect x="632.64" y="2002.20" width="7.46" height="29.77" fill="#ed1f27" stroke="#000" stroke-width="1"/>
<rect x="734.54" y="2002.20" width="7.46" height="119.10" fill="#ed1f27" stroke="#000" stroke-width="1"/>
<rect x="785.49" y="2002.20" width="7.46" height="29.77" fill="#ed1f27" stroke="#000" stroke-width="1"/>
<rect x="836.44" y="2002.20" width="7.46" height="178.65" fill="#ed1f27" stroke="#000" stroke-width="1"/>
<rect x="887.40" y="2002.20" width="7.46" height="327.52" fill="#ed1f27" stroke="#000" stroke-width="1"/>
<line x1="121.75" x2="916.60" y1="2002.20" y2="2002.20" stroke="#383838" stroke-width="1.1"/>
<line x1="112.75" x2="121.75" y1="2329.72" y2="2329.72" stroke="#1c1c1c" stroke-width="1"/>
<line x1="916.60" x2="925.60" y1="2329.72" y2="2329.72" stroke="#1c1c1c" stroke-width="1"/>
<line x1="112.75" x2="121.75" y1="2299.95" y2="2299.95" stroke="#1c1c1c" stroke-width="1"/>
<line x1="916.60" x2="925.60" y1="2299.95" y2="2299.95" stroke="#1c1c1c" stroke-width="1"/>
<line x1="112.75" x2="121.75" y1="2240.40" y2="2240.40" stroke="#1c1c1c" stroke-width="1"/>
<line x1="916.60" x2="925.60" y1="2240.40" y2="2240.40" stroke="#1c1c1c" stroke-width="1"/>
<line x1="112.75" x2="121.75" y1="2210.62" y2="2210.62" stroke="#1c1c1c" stroke-width="1"/>
<line x1="916.60" x2="925.60" y1="2210.62" y2="2210.62" stroke="#1c1c1c" stroke-width="1"/>
<line x1="112.75" x2="121.75" y1="2151.07" y2="2151.07" stroke="#1c1c1c" stroke-width="1"/>
<line x1="916.60" x2="925.60" y1="2151.07" y2="2151.07" stroke="#1c1c1c" stroke-width="1"/>
<line x1="112.75" x2="121.75" y1="2121.30" y2="2121.30" stroke="#1c1c1c" stroke-width="1"/>
<line x1="916.60" x2="925.60" y1="2121.30" y2="2121.30" stroke="#1c1c1c" stroke-width="1"/>
<line x1="112.75" x2="121.75" y1="2061.75" y2="2061.75" stroke="#1c1c1c" stroke-width="1"/>
<line x1="916.60" x2="925.60" y1="2061.75" y2="2061.75" stroke="#1c1c1c" stroke-width="1"/>
<line x1="112.75" x2="121.75" y1="2031.97" y2="2031.97" stroke="#1c1c1c" stroke-width="1"/>
<line x1="916.60" x2="925.60" y1="2031.97" y2="2031.97" stroke="#1c1c1c" stroke-width="1"/>
<line x1="112.75" x2="121.75" y1="1972.42" y2="1972.42" stroke="#1c1c1c" stroke-width="1"/>
<line x1="916.60" x2="925.60" y1="1972.42" y2="1972.42" stroke="#1c1c1c" stroke-width="1"/>
<line x1="112.75" x2="121.75" y1="1942.65" y2="1942.65" stroke="#1c1c1c" stroke-width="1"/>
<line x1="916.60" x2="925.60" y1="1942.65" y2="1942.65" stroke="#1c1c1c" stroke-width="1"/>
<line x1="112.75" x2="121.75" y1="1883.10" y2="1883.10" stroke="#1c1c1c" stroke-width="1"/>
<line x1="916.60" x2="925.60" y1="1883.10" y2="1883.10" stroke="#1c1c1c" stroke-width="1"/>
<line x1="112.75" x2="121.75" y1="1853.33" y2="1853.33" stroke="#1c1c1c" stroke-width="1"/>
<line x1="916.60" x2="925.60" y1="1853.33" y2="1853.33" stroke="#1c1c1c" stroke-width="1"/>
<line x1="112.75" x2="121.75" y1="1793.78" y2="1793.78" stroke="#1c1c1c" stroke-width="1"/>
<line x1="916.60" x2="925.60" y1="1793.78" y2="1793.78" stroke="#1c1c1c" stroke-width="1"/>
<line x1="112.75" x2="121.75" y1="1764.00" y2="1764.00" stroke="#1c1c1c" stroke-width="1"/>
<line x1="916.60" x2="925.60" y1="1764.00" y2="1764.00" stroke="#1c1c1c" stroke-width="1"/>
<line x1="103.75" x2="121.75" y1="1823.55" y2="1823.55" stroke="#000" stroke-width="1.7"/>
<line x1="916.60" x2="934.60" y1="1823.55" y2="1823.55" stroke="#000" stroke-width="1.7"/>
<line x1="103.75" x2="121.75" y1="1912.88" y2="1912.88" stroke="#000" stroke-width="1.7"/>
<line x1="916.60" x2="934.60" y1="1912.88" y2="1912.88" stroke="#000" stroke-width="1.7"/>
<line x1="103.75" x2="121.75" y1="2002.20" y2="2002.20" stroke="#000" stroke-width="1.7"/>
<line x1="916.60" x2="934.60" y1="2002.20" y2="2002.20" stroke="#000" stroke-width="1.7"/>
<line x1="103.75" x2="121.75" y1="2091.53" y2="2091.53" stroke="#000" stroke-width="1.7"/>
<line x1="916.60" x2="934.60" y1="2091.53" y2="2091.53" stroke="#000" stroke-width="1.7"/>
<line x1="103.75" x2="121.75" y1="2180.85" y2="2180.85" stroke="#000" stroke-width="1.7"/>
<line x1="916.60" x2="934.60" y1="2180.85" y2="2180.85" stroke="#000" stroke-width="1.7"/>
<line x1="103.75" x2="121.75" y1="2270.18" y2="2270.18" stroke="#000" stroke-width="1.7"/>
<line x1="916.60" x2="934.60" y1="2270.18" y2="2270.18" stroke="#000" stroke-width="1.7"/>
<line x1="103.75" x2="121.75" y1="2359.50" y2="2359.50" stroke="#000" stroke-width="1.7"/>
<line x1="916.60" x2="934.60" y1="2359.50" y2="2359.50" stroke="#000" stroke-width="1.7"/>
<line x1="172.70" x2="172.70" y1="1746.50" y2="1764.00" stroke="#000" stroke-width="1.5"/>
<line x1="172.70" x2="172.70" y1="2359.50" y2="2377.00" stroke="#000" stroke-width="1.5"/>
<line x1="223.65" x2="223.65" y1="1746.50" y2="1764.00" stroke="#000" stroke-width="1.5"/>
<line x1="223.65" x2="223.65" y1="2359.50" y2="2377.00" stroke="#000" stroke-width="1.5"/>
<line x1="274.61" x2="274.61" y1="1746.50" y2="1764.00" stroke="#000" stroke-width="1.5"/>
<line x1="274.61" x2="274.61" y1="2359.50" y2="2377.00" stroke="#000" stroke-width="1.5"/>
<line x1="325.56" x2="325.56" y1="1746.50" y2="1764.00" stroke="#000" stroke-width="1.5"/>
<line x1="325.56" x2="325.56" y1="2359.50" y2="2377.00" stroke="#000" stroke-width="1.5"/>
<line x1="376.51" x2="376.51" y1="1746.50" y2="1764.00" stroke="#000" stroke-width="1.5"/>
<line x1="376.51" x2="376.51" y1="2359.50" y2="2377.00" stroke="#000" stroke-width="1.5"/>
<line x1="427.46" x2="427.46" y1="1746.50" y2="1764.00" stroke="#000" stroke-width="1.5"/>
<line x1="427.46" x2="427.46" y1="2359.50" y2="2377.00" stroke="#000" stroke-width="1.5"/>
<line x1="478.41" x2="478.41" y1="1746.50" y2="1764.00" stroke="#000" stroke-width="1.5"/>
<line x1="478.41" x2="478.41" y1="2359.50" y2="2377.00" stroke="#000" stroke-width="1.5"/>
<line x1="529.37" x2="529.37" y1="1746.50" y2="1764.00" stroke="#000" stroke-width="1.5"/>
<line x1="529.37" x2="529.37" y1="2359.50" y2="2377.00" stroke="#000" stroke-width="1.5"/>
<line x1="580.32" x2="580.32" y1="1746.50" y2="1764.00" stroke="#000" stroke-width="1.5"/>
<line x1="580.32" x2="580.32" y1="2359.50" y2="2377.00" stroke="#000" stroke-width="1.5"/>
<line x1="631.27" x2="631.27" y1="1746.50" y2="1764.00" stroke="#000" stroke-width="1.5"/>
<line x1="631.27" x2="631.27" y1="2359.50" y2="2377.00" stroke="#000" stroke-width="1.5"/>
<line x1="682.22" x2="682.22" y1="1746.50" y2="1764.00" stroke="#000" stroke-width="1.5"/>
<line x1="682.22" x2="682.22" y1="2359.50" y2="2377.00" stroke="#000" stroke-width="1.5"/>
<line x1="733.17" x2="733.17" y1="1746.50" y2="1764.00" stroke="#000" stroke-width="1.5"/>
<line x1="733.17" x2="733.17" y1="2359.50" y2="2377.00" stroke="#000" stroke-width="1.5"/>
<line x1="784.12" x2="784.12" y1="1746.50" y2="1764.00" stroke="#000" stroke-width="1.5"/>
<line x1="784.12" x2="784.12" y1="2359.50" y2="2377.00" stroke="#000" stroke-width="1.5"/>
<line x1="835.08" x2="835.08" y1="1746.50" y2="1764.00" stroke="#000" stroke-width="1.5"/>
<line x1="835.08" x2="835.08" y1="2359.50" y2="2377.00" stroke="#000" stroke-width="1.5"/>
<line x1="886.03" x2="886.03" y1="1746.50" y2="1764.00" stroke="#000" stroke-width="1.5"/>
<line x1="886.03" x2="886.03" y1="2359.50" y2="2377.00" stroke="#000" stroke-width="1.5"/>
<rect x="121.75" y="1764.00" width="794.85" height="595.50" fill="none" stroke="#0c0c0c" stroke-width="1.9"/>
<text x="90.65" y="1830.94" text-anchor="end" font-size="20.47">0.06</text>
<text x="90.65" y="1920.26" text-anchor="end" font-size="20.47">0.03</text>
<text x="90.65" y="2009.59" text-anchor="end" font-size="20.47">0.00</text>
<text x="90.65" y="2098.91" text-anchor="end" font-size="20.47">-0.03</text>
<text x="90.65" y="2188.24" text-anchor="end" font-size="20.47">-0.06</text>
<text x="90.65" y="2277.56" text-anchor="end" font-size="20.47">-0.09</text>
<text x="90.65" y="2366.89" text-anchor="end" font-size="20.47">-0.12</text>
<text transform="translate(179.83,2390.86) rotate(-90)" text-anchor="end" font-size="20.54">AWI-CM-1-1-MR</text>
<text transform="translate(230.78,2390.86) rotate(-90)" text-anchor="end" font-size="20.54">BCC-CSM2-MR</text>
<text transform="translate(281.73,2390.86) rotate(-90)" text-anchor="end" font-size="20.54">CAMS-CSM1-0</text>
<text transform="translate(332.68,2390.86) rotate(-90)" text-anchor="end" font-size="20.54">CMCC-CM2-SR5</text>
<text transform="translate(383.63,2390.86) rotate(-90)" text-anchor="end" font-size="20.54">EC-Earth3</text>
<text transform="translate(434.59,2390.86) rotate(-90)" text-anchor="end" font-size="20.54">EC-Earth3-Veg</text>
<text transform="translate(485.54,2390.86) rotate(-90)" text-anchor="end" font-size="20.54">FGOALS-f3-L</text>
<text transform="translate(536.49,2390.86) rotate(-90)" text-anchor="end" font-size="20.54">FIO-ESM-2-0</text>
<text transform="translate(587.44,2390.86) rotate(-90)" text-anchor="end" font-size="20.54">GFDL-ESM4</text>
<text transform="translate(638.39,2390.86) rotate(-90)" text-anchor="end" font-size="20.54">INM-CM4-8</text>
<text transform="translate(689.34,2390.86) rotate(-90)" text-anchor="end" font-size="20.54">INM-CM5-0</text>
<text transform="translate(740.30,2390.86) rotate(-90)" text-anchor="end" font-size="20.54">MPI-ESM1-2-HR</text>
<text transform="translate(791.25,2390.86) rotate(-90)" text-anchor="end" font-size="20.54">MRI-ESM2-0</text>
<text transform="translate(842.20,2390.86) rotate(-90)" text-anchor="end" font-size="20.54">NorESM-MM</text>
<text transform="translate(893.15,2390.86) rotate(-90)" text-anchor="end" font-size="20.54">TaiESM1</text>
<rect x="746.60" y="1798.19" width="59.01" height="11.33" fill="#3954a5" stroke="#000" stroke-width="1"/>
<text x="823.01" y="1809.33" font-size="20.47">ssp126</text>
<rect x="746.60" y="1857.80" width="59.01" height="11.33" fill="#f2eb19" stroke="#000" stroke-width="1"/>
<text x="823.01" y="1868.94" font-size="20.47">ssp245</text>
<rect x="746.60" y="1917.41" width="59.01" height="11.33" fill="#ed1f27" stroke="#000" stroke-width="1"/>
<text x="823.01" y="1928.55" font-size="20.47">ssp585</text>
<text x="518.77" y="1724.50" text-anchor="middle" font-size="27.39" class="tt">Precipitation-Evaporation</text>
<text x="16.70" y="1736.40" font-size="37.5" class="tg">(c)</text>
<text transform="translate(22.20,2061.75) rotate(-90)" text-anchor="middle" font-size="27.22" class="tt">mm/day/81 years</text>
</svg>
</body></html>
